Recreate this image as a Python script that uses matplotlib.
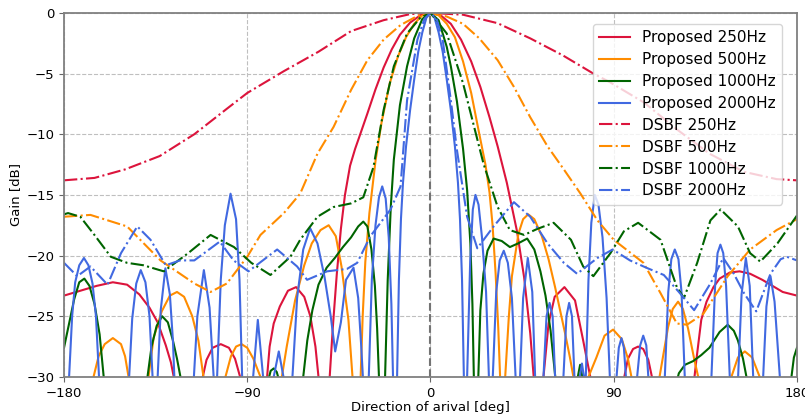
import numpy as np
import matplotlib
matplotlib.use('Agg')
from matplotlib import pyplot as plt

# ---- values (deg, dB); -40 marks a null below the axis ----
p250_deg = [-180, -172, -164, -156, -149, -143, -138, -134, -130, -127.5, -125.5, -124,
            -114, -112.5, -110, -107, -103, -99, -96, -93.5, -92,
            -82, -80.5, -79, -77, -74, -70, -66, -62, -59, -56.5, -55, -53,
            -50.5, -49.5, -48, -46, -44, -42, -39.5, -37, -34.5, -31, -27, -23, -19, -15, -10, -5, 0,
            5, 10, 15, 20, 24.5, 29, 33, 37.5, 42.5, 46, 49, 50.7, 52,
            54.5, 55.5, 58, 61, 65.8, 71, 75, 78.5, 79.5,
            93.5, 94.6, 97, 99.5, 102, 104.5, 107, 109.4, 110.5,
            128, 129, 130.6, 133, 135.6, 139, 142, 147, 151.8, 157, 163, 168, 173, 180]
p250_db = [-23.3, -22.9, -22.5, -22.2, -22.4, -23.2, -24.3, -25.5, -27.4, -28.8, -30.5, -40,
           -40, -30.5, -28.6, -27.6, -27.3, -27.6, -28.5, -30, -40,
           -40, -30.5, -27.5, -25.6, -24.2, -22.9, -22.6, -23.4, -25.0, -27.5, -30, -40,
           -40, -30, -26, -21.5, -17.8, -15.0, -12.6, -11.2, -10.0, -8.3, -6.3, -4.5, -3.0, -1.8, -0.8, -0.2, 0,
           -0.2, -0.9, -2.2, -4.0, -6.1, -8.6, -11.0, -14.0, -18.0, -21.8, -26.4, -30, -40,
           -40, -30, -25.6, -23.4, -22.6, -23.7, -27, -30, -40,
           -40, -30.5, -28.5, -27.7, -27.5, -27.7, -28.6, -30.5, -40,
           -40, -31, -28.6, -25.3, -23.8, -22.6, -21.9, -21.4, -21.3, -21.5, -22.0, -22.5, -23.0, -23.3]

p500_deg = [-180, -166.5, -165.5, -163, -160, -156, -152, -150, -148.3, -147,
            -140, -138.5, -136, -132, -128, -124.5, -121, -117, -114, -111.5, -110,
            -102, -100.7, -98, -95.5, -92.8, -90, -87, -83.5, -82,
            -74.5, -73, -70.6, -66.5, -62, -58.3, -54, -50, -46.5, -43.7, -40.3, -38.3, -37,
            -35.5, -34.3, -33.3, -32, -30, -27, -24, -20, -16, -12, -8, -4, 0,
            4, 8, 12, 16, 20, 24, 27, 29, 30.5, 32, 33.3, 34.2, 35.2,
            36, 36.7, 38.5, 40, 43.2, 45.5, 48, 51, 54.7, 58, 61.2, 66.1, 68.5, 70.2, 71.5,
            76.5, 77.6, 81.5, 85.5, 89.7, 94, 97, 98.7, 100,
            111.5, 112.5, 116.7, 119, 121.6, 124, 126.5, 129.5, 131.5, 133,
            147, 147.8, 151, 154.4, 158, 161.7, 162.5, 180]
p500_db = [-40, -40, -30, -28.3, -27.3, -26.8, -27.3, -28.3, -30, -40,
           -40, -30, -26.8, -24.6, -23.3, -23.0, -23.4, -25.0, -27.0, -30, -40,
           -40, -30, -28.3, -27.5, -27.3, -27.6, -28.5, -30, -40,
           -40, -30, -27.5, -23.7, -20.8, -19.0, -17.9, -17.5, -18.4, -20.9, -25.3, -30, -40,
           -40, -30, -25, -20.5, -16.5, -12.2, -9.0, -5.8, -3.6, -2.0, -0.9, -0.2, 0,
           -0.2, -0.9, -2.0, -4.0, -6.6, -10.0, -12.5, -14.8, -17.5, -21.5, -26, -30, -40,
           -40, -30, -25, -21.7, -18.2, -17.0, -16.6, -17.0, -18.4, -20.3, -22.6, -26.4, -28.4, -30, -40,
           -40, -30, -28.4, -26.6, -26.1, -26.9, -28.5, -30, -40,
           -40, -30, -25.9, -24.4, -23.8, -24.4, -26.0, -28.5, -30, -40,
           -40, -30, -28.4, -27.9, -28.4, -30, -40, -40]

p1000_deg = [-180, -178, -175, -172.5, -170, -167.5, -165, -162.5, -160.5, -159,
             -140, -139, -137, -134.5, -131.8, -129, -126.5, -124.5, -122.8, -121.5,
             -81, -80, -78.5, -77, -75.5, -74, -73,
             -64, -62.5, -60.5, -58, -55, -51, -47, -43, -39, -35.5, -33, -31, -29, -27.3, -26.2, -25.3, -24.3,
             -23.3, -22.3, -21, -19.5, -18, -15, -11.5, -8, -4, 0,
             4, 8, 10, 13, 16, 18, 19.6, 20.6, 21.3, 22,
             22.8, 23.5, 24.5, 26, 28, 31, 35, 39, 43, 47.5, 51, 54, 56.5, 59, 61.3, 62.5,
             71, 71.8, 73.5, 75.2, 76,
             120, 120.8, 122, 125, 129, 133, 137, 142, 146, 149, 151, 153.5, 155.2, 156.2,
             176.5, 177.3, 178.5, 180]
p1000_db = [-27.6, -26.0, -23.6, -22.2, -21.9, -22.5, -24.0, -26.5, -30, -40,
            -40, -30, -27.5, -25.8, -25.0, -25.5, -27, -28.5, -30, -40,
            -40, -30.5, -29.5, -29.3, -29.6, -30.5, -40,
            -40, -30, -27, -24.5, -22.4, -21.0, -20.2, -19.3, -18.5, -17.6, -17.2, -17.6, -19.5, -22.5, -26, -30, -40,
            -40, -30, -22, -16, -12.1, -7.6, -4.4, -2.1, -0.5, 0,
            -0.6, -2.8, -4.4, -7.3, -11.2, -14.6, -19, -24, -30, -40,
            -40, -30, -24.5, -21.5, -19.6, -18.6, -18.8, -19.3, -19.0, -18.6, -19.5, -21.3, -23.3, -26.2, -30, -40,
            -40, -30.5, -29.0, -30.5, -40,
            -40, -30.5, -29.7, -29.0, -28.7, -28.2, -27.6, -26.3, -25.7, -26.2, -27.0, -28.5, -30, -40,
            -40, -30, -28.4, -27.6]

p2000_deg = [-180, -178.5, -177.5, -176, -174.5, -172.5, -170.2, -168, -166, -164.3, -162.8, -161.8,
             -149, -148, -146.5, -144.5, -142.3, -140, -138, -136.5, -135.5,
             -134.8, -134, -132.5, -130.2, -128, -126.5, -125.8, -125,
             -117, -116.2, -114.5, -111.3, -108.5, -106.5, -105.7,
             -105.5, -104.8, -103, -101, -98.2, -95.5, -93.8, -92.5, -91.5,
             -88, -87.1, -84.8, -82.2, -81.3,
             -78, -77, -74.5, -72.2, -71,
             -69, -67.8, -65.5, -62.5, -59.1, -55.5, -52, -49, -46.8, -44, -41.5, -37.8, -35.5, -34, -33.2, -32.5,
             -31.5, -30.3, -28.8, -27, -25.3, -23.7, -22, -20.5, -19.2, -18.4, -17.8,
             -17, -16.4, -15.5, -14.5, -13.5, -12, -10, -8, -6, -4, -2, 0,
             2, 4, 6, 8, 10, 12, 13.5, 14.5, 15.5, 16.4, 17,
             17.5, 18, 19.5, 20.8, 22.1, 23.6, 25.3, 27.3, 28.7, 29.5,
             30, 30.6, 32.3, 34, 36, 38, 40, 41.8, 42.6,
             43.3, 44, 45.5, 47.8, 50, 51.4, 52.2,
             54.8, 55.5, 57, 58.5, 60, 61.2, 62,
             64.6, 65.3, 66.8, 68.1, 69.5, 70.7, 71.4,
             72.5, 73.3, 74.4, 75.4, 75.8,
             76.3, 77.6, 79, 80.7, 82.5, 84.5, 86.5, 88.1, 89,
             90.8, 91.4, 92.5, 93.8, 95, 96, 96.8,
             100.8, 101.5, 103, 104.5, 106, 107, 107.8,
             114.3, 115.1, 116.8, 118.3, 120, 121.8, 123.3, 124.9, 125.7,
             137.2, 138, 139.8, 141, 142.4, 143.8, 145.2, 147, 147.8,
             150.4, 151.1, 152.8, 154.9, 156.8, 158.5, 159.3,
             162.7, 163.4, 165, 167, 169, 171.6, 172.4, 180]
p2000_db = [-40, -40, -30, -25.0, -22.2, -20.8, -20.2, -20.8, -22.3, -25.0, -30, -40,
            -40, -30, -25.2, -22.3, -21.2, -22.2, -25.0, -30, -40,
            -40, -30, -24.5, -21.05, -23.2, -27, -30, -40,
            -40, -30, -25.0, -21.2, -24.3, -30, -40,
            -40, -30, -22, -17.5, -14.9, -17.0, -22, -30, -40,
            -40, -30, -25.3, -30, -40,
            -40, -30, -27.9, -30, -40,
            -40, -30, -23.5, -19.5, -17.75, -19.0, -21.8, -25.0, -27.9, -25.5, -22.0, -21.0, -23.5, -27.5, -30, -40,
            -40, -30, -22, -17.5, -15.2, -14.3, -15.3, -18.5, -24, -30, -40,
            -40, -30, -22, -17, -14, -11, -8, -5.5, -3.2, -1.6, -0.4, 0,
            -0.4, -1.6, -3.2, -5.5, -8, -11, -14, -17, -22, -30, -40,
            -40, -30, -20.5, -16.2, -15.0, -15.8, -18.5, -23.0, -30, -40,
            -40, -30, -23.0, -20.4, -19.6, -20.6, -23.5, -30, -40,
            -40, -30, -23.5, -20.2, -23.0, -30, -40,
            -40, -30, -25.0, -23.9, -25.0, -30, -40,
            -40, -30, -25.0, -23.9, -25.0, -30, -40,
            -40, -30, -28.9, -30, -40,
            -30, -22, -17.3, -15.0, -15.8, -18.5, -23.5, -30, -40,
            -40, -30, -27.6, -26.8, -27.6, -30, -40,
            -40, -30, -27.4, -26.6, -27.4, -30, -40,
            -40, -30, -23.0, -20.3, -19.5, -20.3, -23.0, -30, -40,
            -40, -30, -22.5, -19.8, -19.1, -19.8, -22.5, -30, -40,
            -40, -30, -23.2, -20.2, -22.5, -30, -40,
            -40, -30, -24.2, -21.7, -23.8, -30, -40, -40]

d250_deg = [-180, -165, -150, -133, -116, -100, -90, -83, -72, -55, -39, -23, -10, 0,
            16, 33, 49, 65, 80, 88, 105, 121, 137, 154, 170, 180]
d250_db = [-13.8, -13.6, -12.9, -11.8, -10.0, -7.9, -6.6, -5.9, -4.8, -3.2, -1.5, -0.6, -0.1, 0,
           -0.15, -0.85, -2.1, -3.5, -5.0, -5.7, -7.4, -9.6, -11.6, -13.1, -13.7, -13.8]

d500_deg = [-180, -167, -149, -132.6, -116, -108, -100, -90, -83.5, -72, -64, -55.5, -47.6, -39,
            -31, -23, -14.7, -6.4, 0, 8, 16, 24, 33, 41, 49, 57.5, 65.5, 73.7, 82, 90,
            104.6, 113, 121, 126, 134, 146, 157, 170, 180]
d500_db = [-16.8, -16.65, -17.6, -20.4, -22.3, -23.0, -22.3, -20.1, -18.3, -16.5, -14.9, -11.6, -9.4, -6.35,
           -3.9, -2.2, -1.0, -0.25, 0, -0.3, -0.9, -2.1, -3.9, -6.1, -8.6, -11.0, -12.9, -14.9, -17.1, -18.7,
           -20.6, -23.1, -25.6, -25.7, -24.8, -21.7, -19.5, -17.9, -17.0]

d1000_deg = [-180, -178, -172, -165.5, -157, -149, -141, -131, -119, -108, -96.5, -88, -78.6,
             -68.8, -64, -55.5, -47.6, -39, -33, -28, -23, -18, -11.5, -5, 0,
             8, 16, 21, 26, 33, 39, 46, 52.5, 60.5, 69, 75, 80, 88.4, 95, 102,
             113, 121, 124.5, 131, 137.5, 142.5, 151, 157, 162, 170.4, 180]
d1000_db = [-16.6, -16.5, -16.8, -18.2, -20.1, -20.6, -20.8, -21.3, -19.8, -18.3, -19.3, -20.6, -21.6,
            -20.1, -18.7, -16.8, -16.0, -15.7, -15.2, -12.7, -8.0, -4.4, -1.7, -0.4, 0,
            -1.7, -5.8, -9.1, -12.4, -16.0, -17.9, -18.3, -17.8, -17.3, -18.7, -20.9, -21.7, -19.8, -18.0, -17.3,
            -18.7, -22.6, -23.5, -20.6, -17.1, -16.2, -17.6, -19.8, -20.5, -19.0, -16.7]

d2000_deg = [-180, -173.5, -167, -158.6, -152, -144, -137.5, -130, -123, -116, -103.5, -96.7, -89.4,
             -75.3, -65.5, -60.6, -50.8, -41, -36, -29.5, -19.6, -14.7, -11.5, -6.4, -3, 0,
             3, 6, 10, 13, 18, 23, 31, 41, 49, 57.5, 65.5, 72, 82, 89.5, 98, 106, 114.6, 122,
             129.5, 137.5, 143.8, 149, 154, 160, 167, 172, 175, 180]
d2000_db = [-20.6, -21.7, -20.9, -22.4, -19.8, -17.6, -18.7, -20.8, -20.4, -20.4, -18.85, -20.4, -21.3,
            -19.5, -20.9, -22.0, -21.3, -21.1, -20.6, -18.4, -16.2, -14.3, -7.2, -2.2, -0.5, 0,
            -0.5, -2.2, -7.2, -11.3, -16.8, -19.4, -17.6, -15.6, -16.8, -19.0, -20.6, -21.5, -20.2, -19.5, -20.4, -21.0, -21.6, -23.0,
            -24.5, -22.3, -20.2, -21.5, -23.1, -24.6, -21.5, -20.3, -20.1, -20.4]

labels = ['Proposed 250Hz', 'Proposed 500Hz', 'Proposed 1000Hz', 'Proposed 2000Hz',
          'DSBF 250Hz', 'DSBF 500Hz', 'DSBF 1000Hz', 'DSBF 2000Hz']
colors = ['crimson', 'darkorange', 'darkgreen', 'royalblue']

fig = plt.figure(figsize=(8.05, 4.16), dpi=100)
ax = fig.add_axes([0.0795, 0.094, 0.9105, 0.875])

proposed = [(p250_deg, p250_db), (p500_deg, p500_db), (p1000_deg, p1000_db), (p2000_deg, p2000_db)]
dsbf = [(d250_deg, d250_db), (d500_deg, d500_db), (d1000_deg, d1000_db), (d2000_deg, d2000_db)]

for i, (x, y) in enumerate(proposed):
    ax.plot(x, y, color=colors[i], lw=1.5, label=labels[i])
for i, (x, y) in enumerate(dsbf):
    ax.plot(x, y, color=colors[i], lw=1.5, ls='-.', label=labels[4 + i])

ax.axvline(0, color='0.45', ls='--', lw=1.5)
ax.set_xlim(-180, 180)
ax.set_ylim(-30, 0)
ax.set_xticks([-180, -90, 0, 90, 180])
ax.set_yticks([0, -5, -10, -15, -20, -25, -30])
ax.grid(True, ls='--', color='0.75', lw=0.8)
for s in ax.spines.values():
    s.set_color('0.5')
    s.set_linewidth(1.3)
ax.tick_params(labelsize=9.5, color='0.4')
ax.set_xlabel('Direction of arival [deg]', fontsize=9.5, labelpad=1)
ax.set_ylabel('Gain [dB]', fontsize=9.5, labelpad=3)
ax.legend(loc='upper right', fontsize=11, labelspacing=0.45,
          bbox_to_anchor=(0.99, 0.99))

plt.savefig('out.png')
